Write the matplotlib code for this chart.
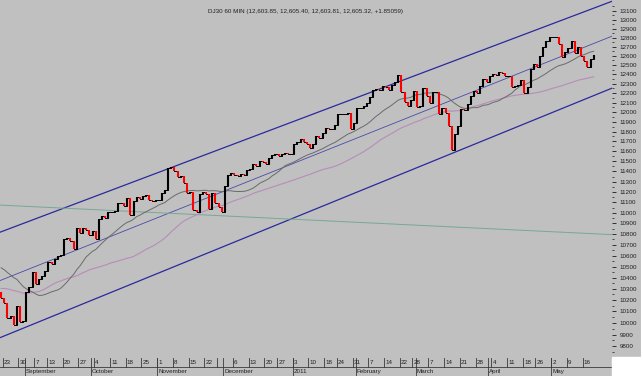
import numpy as np
import pandas as pd
import matplotlib
matplotlib.use("Agg")
import matplotlib.pyplot as plt
from matplotlib.ticker import FixedLocator, FixedFormatter, NullFormatter
from matplotlib.patches import Rectangle

plt.rcParams['font.family'] = ['Liberation Sans', 'DejaVu Sans']

# DJ30 daily closes (June/July 2010 only feed the moving averages)
close_2010_06 = [10024, 10250, 10255, 9932, 9816, 9940, 9899, 10173, 10211, 10191, 10405,
                 10409, 10434, 10451, 10442, 10294, 10298, 10153, 10144, 10139, 9870, 9774]
close_2010_07 = [9733, 9686, 9744, 10018, 10139, 10198, 10216, 10363, 10367, 10359, 10098,
                 10154, 10230, 10121, 10322, 10425, 10525, 10538, 10498, 10467, 10466]
close_2010_08 = [10674, 10636, 10680, 10675, 10654, 10699, 10644, 10379, 10320, 10303, 10302,
                 10406, 10416, 10271, 10214, 10174, 10040, 10060, 9986, 10151, 10010, 10015]
close_2010_09 = [10269, 10320, 10448, 10341, 10387, 10415, 10463, 10544, 10526, 10573, 10595,
                 10608, 10754, 10761, 10739, 10662, 10860, 10812, 10858, 10835, 10788]
close_2010_10 = [10830, 10751, 10945, 10968, 10949, 11006, 11010, 11020, 11096, 11095, 11063,
                 11144, 10979, 11108, 11147, 11133, 11164, 11169, 11126, 11114, 11118]
close_2010_11 = [11125, 11189, 11215, 11435, 11444, 11407, 11347, 11357, 11283, 11193, 11202,
                 11024, 11008, 11181, 11204, 11179, 11036, 11187, 11092, 11052, 11006]
close_2010_12 = [11256, 11362, 11382, 11362, 11359, 11372, 11370, 11410, 11429, 11477, 11457,
                 11499, 11492, 11478, 11533, 11559, 11573, 11555, 11576, 11585, 11570, 11578]
close_2011_01 = [11671, 11691, 11723, 11697, 11675, 11637, 11672, 11755, 11732, 11787, 11838,
                 11825, 11823, 11872, 11981, 11977, 11985, 11990, 11824, 11892]
close_2011_02 = [12040, 12042, 12062, 12092, 12162, 12233, 12240, 12229, 12273, 12268, 12227,
                 12288, 12318, 12391, 12213, 12106, 12069, 12130, 12226]
close_2011_03 = [12058, 12067, 12258, 12170, 12090, 12214, 12213, 11985, 12044, 11993, 11855,
                 11613, 11775, 11859, 12037, 12019, 12086, 12171, 12221, 12198, 12279, 12351, 12320]
close_2011_04 = [12377, 12400, 12394, 12427, 12409, 12380, 12381, 12264, 12271, 12285, 12342,
                 12202, 12267, 12454, 12506, 12480, 12595, 12691, 12763, 12811]
close_2011_05 = [12807, 12808, 12724, 12584, 12639, 12685, 12760, 12630, 12696, 12596, 12548,
                 12480, 12560, 12605]

holidays = ['2010-07-05', '2010-09-06', '2010-11-25', '2010-12-24',
            '2011-01-17', '2011-02-21', '2011-04-22']
first_shown = '2010-08-20'

# trend lines: two (date, price) points each
upper_line = [('2010-08-23', 10826), ('2011-05-19', 13122)]
middle_line = [('2010-08-23', 10383), ('2011-05-19', 12727)]
lower_line = [('2010-08-23', 9883), ('2011-05-19', 12166)]
green_line = [('2010-08-23', 11072), ('2011-05-19', 10803)]

week_dates = ['2010-08-23', '2010-08-30', '2010-09-07', '2010-09-13', '2010-09-20', '2010-09-27',
              '2010-10-04', '2010-10-11', '2010-10-18', '2010-10-25', '2010-11-01', '2010-11-08',
              '2010-11-15', '2010-11-22', '2010-11-29', '2010-12-06', '2010-12-13', '2010-12-20',
              '2010-12-27', '2011-01-03', '2011-01-10', '2011-01-18', '2011-01-24', '2011-01-31',
              '2011-02-07', '2011-02-14', '2011-02-22', '2011-02-28', '2011-03-07', '2011-03-14',
              '2011-03-21', '2011-03-28', '2011-04-04', '2011-04-11', '2011-04-18', '2011-04-25',
              '2011-05-02', '2011-05-09', '2011-05-16']
week_labels = ['23', '30', '7', '13', '20', '27', '4', '11', '18', '25', '1', '8', '15', '22', '',
               '6', '13', '20', '27', '3', '10', '18', '24', '31', '7', '14', '22', '28', '7', '14',
               '21', '28', '4', '11', '18', '26', '2', '9', '16']
month_dates = ['2010-09-01', '2010-10-01', '2010-11-01', '2010-12-01', '2011-01-03',
               '2011-02-01', '2011-03-01', '2011-04-01', '2011-05-02']
month_labels = ['September', 'October', 'November', 'December', '2011',
                'February', 'March', 'April', 'May']

price_labels = list(range(9800, 13101, 100))
title = 'DJ30 60 MIN (12,603.85, 12,605.40, 12,603.81, 12,605.32, +1.85059)'

# ---------------------------------------------------------------
days = pd.bdate_range('2010-06-01', '2011-05-19')
days = days[~days.isin(pd.to_datetime(holidays))]
closes = np.array(close_2010_06 + close_2010_07 + close_2010_08 + close_2010_09 + close_2010_10
                  + close_2010_11 + close_2010_12 + close_2011_01 + close_2011_02 + close_2011_03
                  + close_2011_04 + close_2011_05, dtype=float)
assert len(closes) == len(days)


def idx(d):
    return days.get_loc(pd.Timestamp(d))


ma_fast = pd.Series(closes).rolling(20).mean().values
ma_slow = pd.Series(closes).rolling(50).mean().values

W, H = 641, 376
bg = '#c0c0c0'
fig = plt.figure(figsize=(W / 100, H / 100), dpi=100, facecolor=bg)
axw = 611.7 / W
band = 19 / H
ax = fig.add_axes([0, band, axw, 1 - band])
ax.set_facecolor(bg)
for s in ax.spines.values():
    s.set_visible(False)

i0 = idx(first_shown)
start = idx('2010-08-23')
px_day = 3.152
ax.set_xlim(start - 2.7 / px_day, start + (611.7 - 2.7) / px_day)
ax.set_yscale('log')
ax.set_ylim(9710, 13222)

# trend lines
for pts, col, lw in [(upper_line, '#2a2a9c', 0.9), (middle_line, '#4a4aaa', 0.6),
                     (lower_line, '#2a2a9c', 0.9), (green_line, '#74aa92', 0.7)]:
    ax.axline((idx(pts[0][0]), pts[0][1]), (idx(pts[1][0]), pts[1][1]), color=col, lw=lw)

# moving averages
xs = np.arange(len(closes)) + 0.5
ax.plot(xs[i0:], ma_slow[i0:], color='#b88cb8', lw=0.8)
ax.plot(xs[i0:], ma_fast[i0:], color='#6a6a6a', lw=0.7)

# price bars: previous close -> close, joined by a thin step line
opens = closes[i0 - 1:-1]
cl = closes[i0:]
lo = np.minimum(opens, cl)
hi = np.maximum(opens, cl)
cols = np.where(cl >= opens, '#000000', '#ff0000')
ax.step(xs[i0 - 1:], closes[i0 - 1:], where='post', color='#000000', lw=0.7)
ax.vlines(xs[i0:], lo, hi, colors=cols, lw=1.5)

ax.set_xticks([])
ax.yaxis.set_major_locator(FixedLocator(price_labels))
ax.yaxis.set_major_formatter(FixedFormatter([str(v) for v in price_labels]))
ax.yaxis.set_minor_locator(FixedLocator([v + 50 for v in range(9700, 13200, 100)]))
ax.yaxis.set_minor_formatter(NullFormatter())
ax.yaxis.tick_right()
ax.tick_params(axis='y', which='major', direction='out', length=3, width=0.7, pad=2.5,
               labelsize=4.5, color='#303030', labelcolor='#202020')
ax.tick_params(axis='y', which='minor', direction='out', length=1.5, width=0.6, color='#303030')

fig.text(305 / W, 1 - 11 / H, title, ha='center', va='center', fontsize=4.5, color='#202020')

# date band
axb = fig.add_axes([0, 0, axw, band])
axb.set_xlim(ax.get_xlim())
axb.set_ylim(0, 19)
axb.axis('off')
lc = '#3a3a3a'
axb.plot(ax.get_xlim(), [9, 9], color=lc, lw=0.6, clip_on=False)
for d, lab in zip(week_dates, week_labels):
    x = idx(d)
    axb.plot([x, x], [9, 18], color=lc, lw=0.6)
    axb.text(x + 0.4, 13.5, lab, ha='left', va='center', fontsize=4.5, color='#202020')
for d, lab in zip(month_dates, month_labels):
    x = idx(d)
    axb.plot([x, x], [0, 18], color=lc, lw=0.6)
    axb.text(x + 0.4, 4.3, lab, ha='left', va='center', fontsize=4.5, color='#202020')

fig.patches.append(Rectangle((axw + 0.5 / W, 0), 1, band, transform=fig.transFigure,
                             color='white', zorder=0))

fig.savefig('out.png', dpi=100, facecolor=bg)
